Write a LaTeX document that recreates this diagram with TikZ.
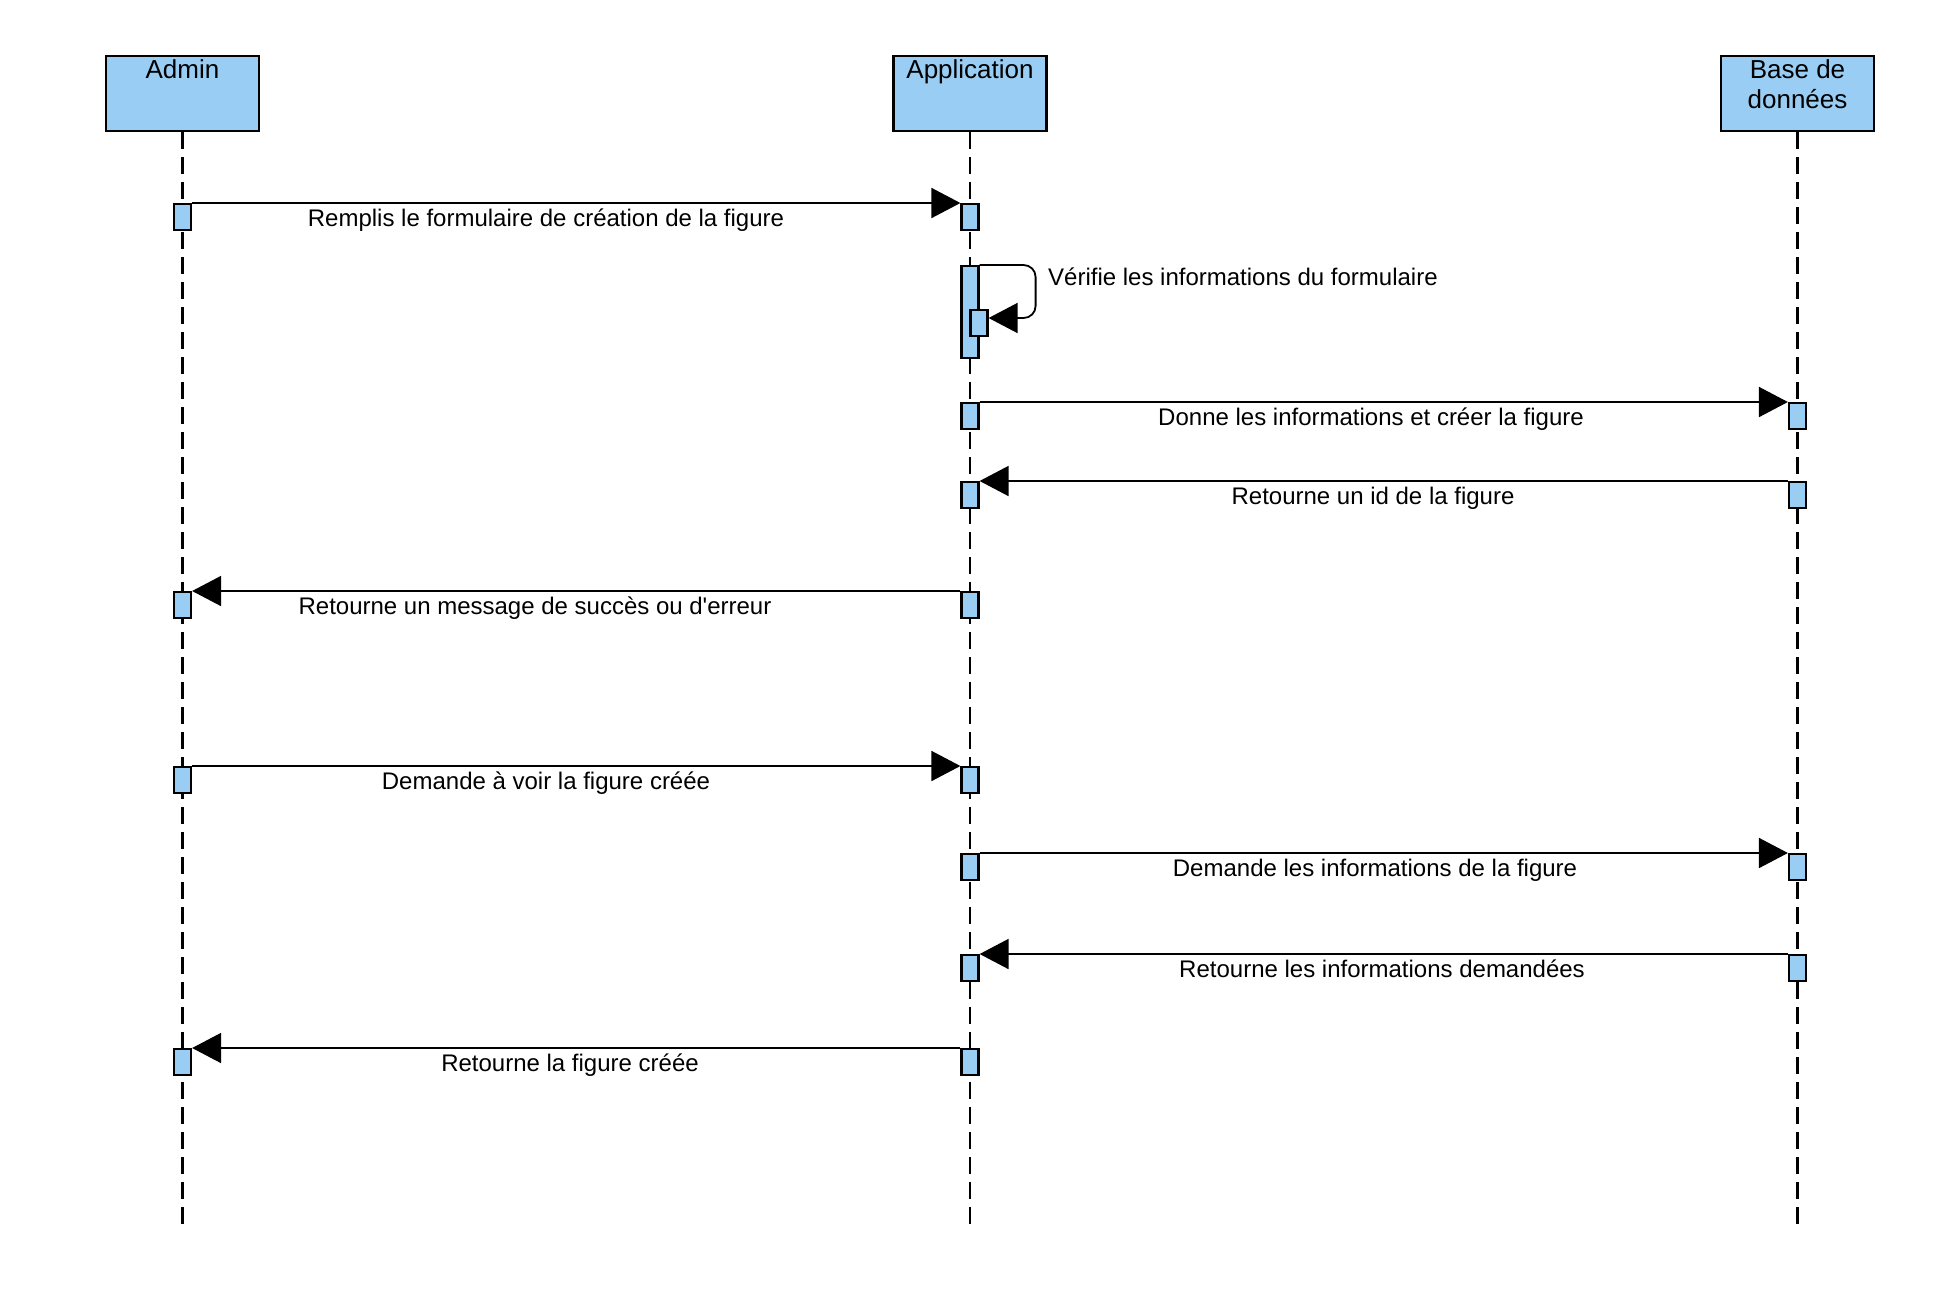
\documentclass[tikz,border=0pt]{standalone}
\usepackage{fontspec}
\setmainfont{Liberation Sans}
\usetikzlibrary{arrows.meta}
\definecolor{actfill}{RGB}{153,205,243}

\begin{document}
\begin{tikzpicture}[x=1pt,y=-1pt,
  head/.style={draw=black, line width=2.2pt, fill=actfill, minimum width=153pt,
    minimum height=75pt, anchor=north, inner sep=0pt},
  headtext/.style={anchor=base, inner sep=0pt, font=\fontsize{26}{30}\selectfont},
  life/.style={line width=2.2pt, dash pattern=on 17pt off 8pt},
  act/.style={draw=black, line width=2.2pt, fill=actfill, minimum width=17pt,
    minimum height=26pt, anchor=north, inner sep=0pt},
  msg/.style={line width=1.8pt, -{Triangle[length=29pt,width=30pt]}},
  lbl/.style={anchor=base, inner sep=0pt, font=\fontsize{24}{28}\selectfont}]

\useasboundingbox (0,0) rectangle (1950,1294);

% participants
\node[head] (admin) at (182.5,55) {};
\node[head] (app)   at (970,55) {};
\node[head] (db)    at (1797.5,55) {};
\node[headtext] (adminT) at ([yshift=-23pt]admin.north) {Admin};
\node[headtext] (appT)   at ([yshift=-23pt]app.north) {Application};
\node[headtext] (dbT)    at ([yshift=-23pt]db.north)
  {\begin{tabular}[t]{@{}c@{}}Base de\\données\end{tabular}};

% lifelines
\coordinate (adminEnd) at (182.5,1231);
\coordinate (appEnd)   at (970,1231);
\coordinate (dbEnd)    at (1797.5,1231);
\draw[life] (admin.south) -- (adminEnd);
\draw[life] (app.south) -- (appEnd);
\draw[life] (db.south) -- (dbEnd);

% activation bars
\node[act] (a1) at (182.5,203) {};
\node[act] (a5) at (182.5,591) {};
\node[act] (a6) at (182.5,766) {};
\node[act] (a9) at (182.5,1048) {};

\node[act] (p1) at (970,203) {};
\node[act, minimum height=92pt] (v0) at (970,265) {};
\node[act] (v1) at (979,309) {};
\node[act] (p3) at (970,402) {};
\node[act] (p4) at (970,481) {};
\node[act] (p5) at (970,591) {};
\node[act] (p6) at (970,766) {};
\node[act] (p7) at (970,853) {};
\node[act] (p8) at (970,954) {};
\node[act] (p9) at (970,1048) {};

\node[act] (d3) at (1797.5,402) {};
\node[act] (d4) at (1797.5,481) {};
\node[act] (d7) at (1797.5,853) {};
\node[act] (d8) at (1797.5,954) {};

% messages
\draw[msg] (a1.north east) -- (p1.north west);
\draw[msg, rounded corners=12pt] (v0.north east) -- ++(56,0) |- ([yshift=-9pt]v1.north east);
\draw[msg] (p3.north east) -- (d3.north west);
\draw[msg] (d4.north west) -- (p4.north east);
\draw[msg] (p5.north west) -- (a5.north east);
\draw[msg] (a6.north east) -- (p6.north west);
\draw[msg] (p7.north east) -- (d7.north west);
\draw[msg] (d8.north west) -- (p8.north east);
\draw[msg] (p9.north west) -- (a9.north east);

% message labels
\node[lbl] (l1) at (546,226) {Remplis le formulaire de création de la figure};
\node[lbl, anchor=base west] (l2) at (1048,285) {Vérifie les informations du formulaire};
\node[lbl] (l3) at (1371,425) {Donne les informations et créer la figure};
\node[lbl] (l4) at (1373,504) {Retourne un id de la figure};
\node[lbl] (l5) at (535,614) {Retourne un message de succès ou d\textquotesingle erreur};
\node[lbl] (l6) at (546,789) {Demande à voir la figure créée};
\node[lbl] (l7) at (1375,876) {Demande les informations de la figure};
\node[lbl] (l8) at (1382,977) {Retourne les informations demandées};
\node[lbl] (l9) at (570,1071) {Retourne la figure créée};

\end{tikzpicture}
\end{document}
